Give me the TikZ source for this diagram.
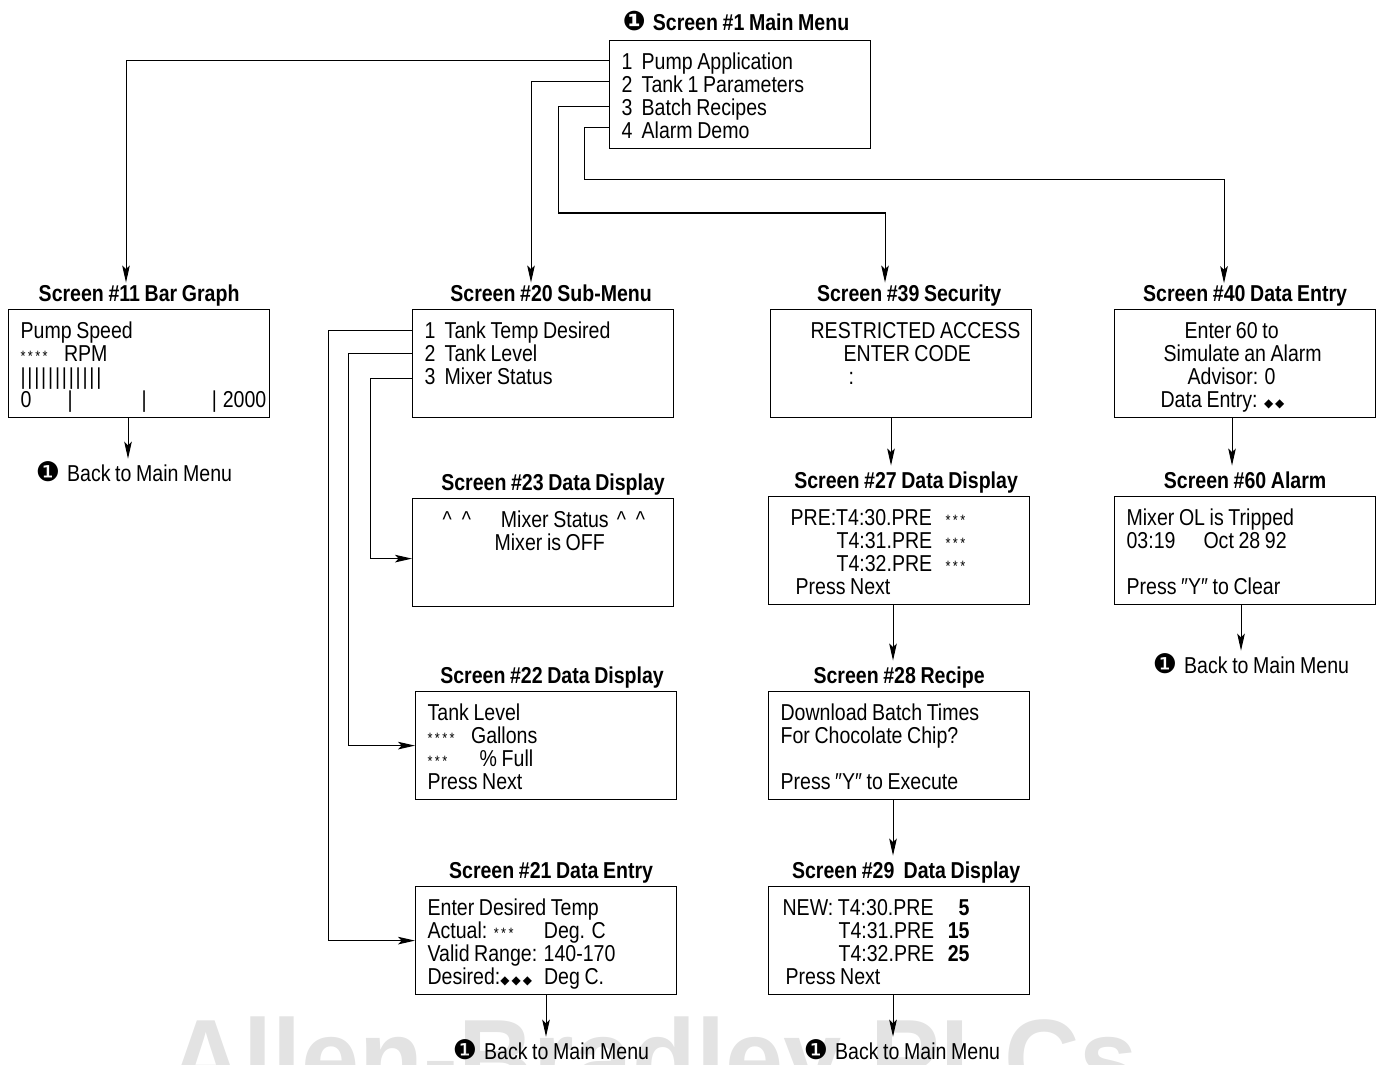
\documentclass[tikz,border=0pt]{standalone}
\usepackage{fontspec}
\setmainfont{Liberation Sans}[FakeStretch=0.85, WordSpace=0.85]
\newfontfamily\dejavu{DejaVu Sans}
\newfontfamily\wmfont{Liberation Sans}[FakeStretch=0.95]
\usetikzlibrary{arrows.meta,positioning}

\newcommand\lcd{\fontsize{11.5pt}{11.5pt}\selectfont\lineskiplimit=-20pt\hyphenpenalty=10000\relax}
\newcommand\bullone{{\dejavu\fontsize{13.5pt}{11.5pt}\selectfont ❶}\hspace{3.5pt}}
\newcommand\stars[1]{{\fontsize{7.5pt}{7.5pt}\selectfont\foreach\i in {1,...,#1}{*\kern1.2pt}}}
\newcommand\dmd[1]{{\dejavu\fontsize{6pt}{6pt}\selectfont\foreach\i in {1,...,#1}{◆\kern1pt}}}
\newcommand\bargraph{\foreach\i in {1,...,12}{|\kern0.9pt}}
\newcommand\carets{\textasciicircum\hspace{5pt}\textasciicircum}

\begin{document}
\begin{tikzpicture}[x=0.5pt, y=-0.5pt, font=\lcd,
    screen/.style={draw, line width=0.6pt, anchor=north west, align=flush left,
      inner xsep=6pt, inner ysep=0pt, text width=118.5pt,
      text height=14.5pt, text depth=39.5pt},
    ttl/.style={font=\lcd\bfseries, inner sep=0pt, text depth=0pt},
    back/.style={anchor=base, inner sep=0pt},
    link/.style={line width=0.5pt, -{Stealth[length=8.5pt, width=3.8pt, inset=1.8pt]}},
    watermark/.style={font=\fontsize{55pt}{55pt}\selectfont\wmfont\bfseries,
      text=black!11, anchor=base, inner sep=0pt}]
  \useasboundingbox (0,0) rectangle (1379,1064);
  \node[watermark] (wm) at (653,1096) {Allen-Bradley PLCs};

  % main menu
  \node[screen] (m) at (609,40) {1\ \ Pump Application\\2\ \ Tank 1 Parameters\\3\ \ Batch Recipes\\4\ \ Alarm Demo};
  \node[ttl, above=4.5pt of m, xshift=-2pt] (t1) {\bullone Screen \#1 Main Menu};

  % pump application
  \node[screen] (s11) at (8,309) {Pump Speed\\ \stars{4}\hspace{7pt}RPM\\ \bargraph\\
    \leavevmode\rlap{\makebox[23.5pt][l]{0}|\hspace{34.5pt}|\hspace{32.5pt}|\hspace{3pt}2000}};
  \node[ttl, above=3.5pt of s11] (t11) {Screen \#11 Bar Graph};
  \node[back] (b11) at (134,481) {\bullone Back to Main Menu};

  % tank 1 parameters
  \node[screen] (s20) at (412,309) {1\ \ Tank Temp Desired\\2\ \ Tank Level\\3\ \ Mixer Status};
  \node[ttl, above=3.5pt of s20, xshift=4pt] (t20) {Screen \#20 Sub-Menu};
  \node[screen] (s23) at (412,498) {\hspace*{9pt}\carets\hspace{15pt}Mixer Status\hspace{4pt}\carets\\
    \hspace*{35pt}Mixer is OFF};
  \node[ttl, above=3.5pt of s23, xshift=5pt] (t23) {Screen \#23 Data Display};
  \node[screen] (s22) at (415,691) {Tank Level\\ \stars{4}\hspace{7pt}Gallons\\ \stars{3}\hspace{15pt}\% Full\\Press Next};
  \node[ttl, above=3.5pt of s22, xshift=3pt] (t22) {Screen \#22 Data Display};
  \node[screen] (s21) at (415,886) {Enter Desired Temp\\Actual: \stars{3}\hspace{14pt}Deg. C\\Valid Range: 140-170\\
    Desired:\dmd{3}\hspace{5pt}Deg C.};
  \node[ttl, above=3.5pt of s21, xshift=2.5pt] (t21) {Screen \#21 Data Entry};
  \node[back] (b21) at (551,1059) {\bullone Back to Main Menu};

  % batch recipes
  \node[screen] (s39) at (770,309) {\hspace*{14pt}\mbox{RESTRICTED ACCESS}\\ \hspace*{30.5pt}ENTER CODE\\ \hspace*{33pt}:};
  \node[ttl, above=3.5pt of s39, xshift=4pt] (t39) {Screen \#39 Security};
  \node[screen] (s27) at (768,496) {\leavevmode\rlap{\hspace*{5pt}PRE:T4:30.PRE}\hspace*{82.5pt}\stars{3}\\
    \leavevmode\rlap{\hspace*{28pt}T4:31.PRE}\hspace*{82.5pt}\stars{3}\\
    \leavevmode\rlap{\hspace*{28pt}T4:32.PRE}\hspace*{82.5pt}\stars{3}\\
    \hspace*{7.5pt}Press Next};
  \node[ttl, above=3.5pt of s27, xshift=3.5pt] (t27) {Screen \#27 Data Display};
  \node[screen] (s28) at (768,691) {Download Batch Times\\For Chocolate Chip?\\[11.5pt]Press ″Y″ to Execute};
  \node[ttl, above=3.5pt of s28] (t28) {Screen \#28 Recipe};
  \node[screen] (s29) at (768,886) {\leavevmode\rlap{\hspace*{1pt}NEW: T4:30.PRE}\makebox[94.5pt][r]{\bfseries 5}\\
    \leavevmode\rlap{\hspace*{29pt}T4:31.PRE}\makebox[94.5pt][r]{\bfseries 15}\\
    \leavevmode\rlap{\hspace*{29pt}T4:32.PRE}\makebox[94.5pt][r]{\bfseries 25}\\
    \hspace*{2.5pt}Press Next};
  \node[ttl, above=3.5pt of s29, xshift=3.5pt] (t29) {Screen \#29\ \ Data Display};
  \node[back] (b29) at (902,1059) {\bullone Back to Main Menu};

  % alarm demo
  \node[screen] (s40) at (1114,309) {\hspace*{29pt}Enter 60 to\\ \hspace*{18.5pt}Simulate an Alarm\\
    \hspace*{30.5pt}Advisor: 0\\ \hspace*{17pt}Data Entry: \dmd{2}};
  \node[ttl, above=3.5pt of s40] (t40) {Screen \#40 Data Entry};
  \node[screen] (s60) at (1114,496) {Mixer OL is Tripped\\03:19\hspace{14pt}Oct 28 92\\[11.5pt]Press ″Y″ to Clear};
  \node[ttl, above=3.5pt of s60] (t60) {Screen \#60 Alarm};
  \node[back] (b60) at (1251,673) {\bullone Back to Main Menu};

  % main menu choices
  \begin{scope}[shorten >=1pt]
    \draw[link] ([shift={(0,21)}]m.north west) -| (126,0 |- t11.north);
    \draw[link] ([shift={(0,42)}]m.north west) -| (531,0 |- t20.north);
    \draw[link] ([shift={(0,67)}]m.north west) -| (558,213) -| (885,0 |- t39.north);
    \draw[link] ([shift={(0,88)}]m.north west) -| (584,180) -| (1224,0 |- t40.north);
  \end{scope}

  % sub-menu choices
  \coordinate (a23) at ([yshift=-3pt]s23.west);
  \draw[link] ([shift={(0,21)}]s20.north west) -| (328,0 |- s21.west) -- (s21.west);
  \draw[link] ([shift={(0,44)}]s20.north west) -| (348,0 |- s22.west) -- (s22.west);
  \draw[link] ([shift={(0,69)}]s20.north west) -| (370,0 |- a23) -- (a23);

  % next screens
  \begin{scope}[shorten >=3pt]
    \draw[link] (891,0 |- s39.south) -- (891,0 |- t27.north);
    \draw[link] (893,0 |- s27.south) -- (893,0 |- t28.north);
    \draw[link] (893,0 |- s28.south) -- (893,0 |- t29.north);
    \draw[link] (1232,0 |- s40.south) -- (1232,0 |- t60.north);
  \end{scope}
  \begin{scope}[shorten >=1pt]
    \draw[link] (128,0 |- s11.south) -- (128,0 |- b11.north);
    \draw[link] (546,0 |- s21.south) -- (546,0 |- b21.north);
    \draw[link] (893,0 |- s29.south) -- (893,0 |- b29.north);
    \draw[link] (1241,0 |- s60.south) -- (1241,0 |- b60.north);
  \end{scope}
\end{tikzpicture}
\end{document}
